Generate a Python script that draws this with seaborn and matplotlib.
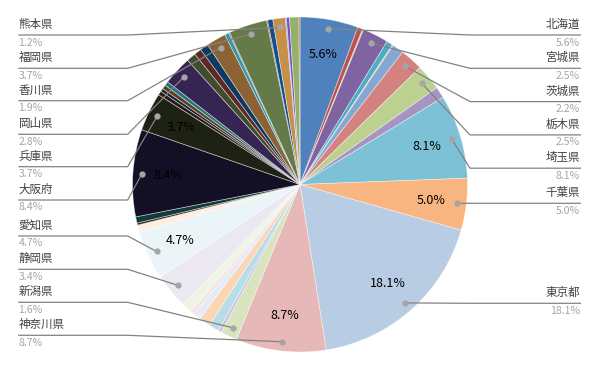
import numpy as np
import matplotlib
matplotlib.use("Agg")
import matplotlib.pyplot as plt
import seaborn as sns

# ---------------- data ----------------
prefectures = ["北海道", "青森県", "岩手県", "宮城県", "秋田県", "山形県", "福島県",
               "茨城県", "栃木県", "群馬県", "埼玉県", "千葉県", "東京都", "神奈川県",
               "新潟県", "富山県", "石川県", "福井県", "山梨県", "長野県", "岐阜県",
               "静岡県", "愛知県", "三重県", "滋賀県", "京都府", "大阪府", "兵庫県",
               "奈良県", "和歌山県", "鳥取県", "島根県", "岡山県", "広島県", "山口県",
               "徳島県", "香川県", "愛媛県", "高知県", "福岡県", "佐賀県", "長崎県",
               "熊本県", "大分県", "宮崎県", "鹿児島県", "沖縄県"]
shares = [5.6, 0.5, 0.1, 2.5, 0.6, 0.1, 1.1,
          2.2, 2.5, 1.1, 8.1, 5.0, 18.1, 8.7,
          1.6, 0.3, 1.0, 1.1, 0.7, 0.4, 1.0,
          3.4, 4.7, 0.7, 0.2, 0.6, 8.4, 3.7,
          0.4, 0.3, 0.4, 0.4, 2.8, 0.9, 0.7,
          0.8, 1.9, 0.4, 0.1, 3.7, 0.1, 0.5,
          1.2, 0.1, 0.3, 0.9, 0.1]
slice_colors = ["#4F81BD", "#C0504D", "#9BBB59", "#8064A2", "#4BACC6", "#F79646", "#84A7D3",
                "#D4827F", "#BCD18F", "#A894C3", "#7DC1D6", "#F9B57F", "#B8CCE4", "#E6B9B8",
                "#D7E4BD", "#CCC1DA", "#B7DEE8", "#FCD5B5", "#E4ECF5", "#F5E4E3", "#EFF4E5",
                "#ECE8F1", "#EBF5F8", "#FDEEE4", "#3B2A14", "#113A3A", "#130F24", "#1D2214",
                "#2F1A14", "#0E2238", "#5D4020", "#23747F", "#362552", "#404D2C", "#5C2A24",
                "#0D3A5E", "#8A6233", "#3398A4", "#5B4385", "#647A48", "#8B2E2A", "#0E4F8E",
                "#C78F48", "#3CA6BC", "#7B4FC7", "#93B268", "#C44A45"]

right_callouts = ["北海道", "宮城県", "茨城県", "栃木県", "埼玉県", "千葉県", "東京都"]
left_callouts = ["熊本県", "福岡県", "香川県", "岡山県", "兵庫県", "大阪府",
                 "愛知県", "静岡県", "新潟県", "神奈川県"]
inside_labels = ["北海道", "埼玉県", "千葉県", "東京都", "神奈川県", "愛知県", "大阪府", "兵庫県"]

# ---------------- layout ----------------
right_line_y = [35, 68.3, 101.6, 134.9, 168.2, 203.3, 303.3]
left_line_y = [35, 68.3, 100.7, 134.3, 166.7, 200, 236, 269.3, 302.3, 335.3]

sns.set_style("white")
plt.rcParams['font.family'] = ['Noto Sans CJK JP', 'DejaVu Sans']

W, H = 600, 371
fig = plt.figure(figsize=(W / 100, H / 100), dpi=100)
cx, cy, R = 300, 184.5, 167.5
ax = fig.add_axes([(cx - R) / W, (H - cy - R) / H, 2 * R / W, 2 * R / H])
palette = sns.color_palette(slice_colors)
wedges, _ = ax.pie(shares, colors=palette, startangle=90, counterclock=False,
                   wedgeprops=dict(edgecolor=(1, 1, 1, 0.55), linewidth=0.5))
ax.set_xlim(-1, 1)
ax.set_ylim(-1, 1)
ax.axis('off')

ov = fig.add_axes([0, 0, 1, 1])
ov.set_xlim(0, W)
ov.set_ylim(H, 0)
ov.axis('off')
ov.patch.set_alpha(0)

to_ov = ov.transData.inverted()


def wedge_point(w, r):
    t = np.deg2rad((w.theta1 + w.theta2) / 2)
    return to_ov.transform(ax.transData.transform((r * np.cos(t), r * np.sin(t))))


idx = {p: i for i, p in enumerate(prefectures)}

# inside labels
for name in inside_labels:
    w = wedges[idx[name]]
    t = np.deg2rad((w.theta1 + w.theta2) / 2)
    ax.text(0.79 * np.cos(t), 0.79 * np.sin(t), f"{shares[idx[name]]:.1f}%",
            ha='center', va='center', fontsize=9, color='black')

line_col = '#828282'
name_col = '#404040'
pct_col = '#A6A6A6'

for name, ly in zip(right_callouts, right_line_y):
    w = wedges[idx[name]]
    dx, dy = wedge_point(w, 0.945)
    ov.plot([dx, 470, 581], [dy, ly, ly], color=line_col, lw=0.9, solid_capstyle='butt')
    ov.plot([dx], [dy], 'o', color='#A5A5A5', markersize=3.5)
    ov.text(580, ly - 10.5, name, ha='right', va='center', fontsize=8.3, color=name_col)
    ov.text(580, ly + 7.5, f"{shares[idx[name]]:.1f}%", ha='right', va='center',
            fontsize=7.6, color=pct_col)

for name, ly in zip(left_callouts, left_line_y):
    w = wedges[idx[name]]
    dx, dy = wedge_point(w, 0.945)
    ov.plot([dx, 127.7, 18.3], [dy, ly, ly], color=line_col, lw=0.9, solid_capstyle='butt')
    ov.plot([dx], [dy], 'o', color='#A5A5A5', markersize=3.5)
    ov.text(18.5, ly - 10.5, name, ha='left', va='center', fontsize=8.3, color=name_col)
    ov.text(18.5, ly + 7.5, f"{shares[idx[name]]:.1f}%", ha='left', va='center',
            fontsize=7.6, color=pct_col)

fig.savefig("out.png", dpi=100)
